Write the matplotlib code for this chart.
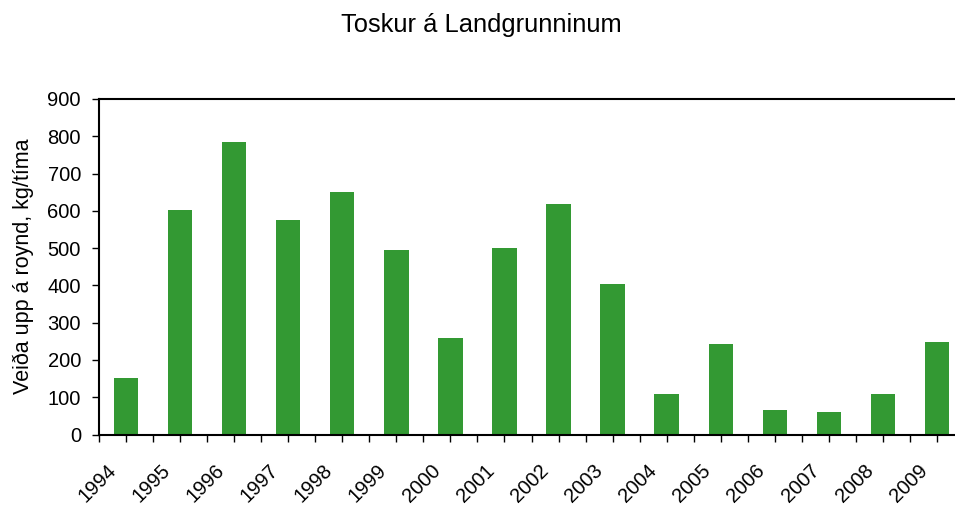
import numpy as np
import matplotlib
matplotlib.use("Agg")
import matplotlib.pyplot as plt
import matplotlib.transforms as mtransforms

plt.rcParams['font.family'] = ['Liberation Sans', 'DejaVu Sans']

years = ['1994', '1995', '1996', '1997', '1998', '1999', '2000', '2001',
         '2002', '2003', '2004', '2005', '2006', '2007', '2008', '2009']
catch = [152, 602, 785, 575, 650, 495, 259, 500,
         618, 404, 109, 243, 66, 60, 109, 248]
yticks = [0, 100, 200, 300, 400, 500, 600, 700, 800, 900]

W, H = 955, 505
fig = plt.figure(figsize=(W/100, H/100), dpi=100)
# axes runs past the right edge of the picture, as in the original
ax = fig.add_axes([99/W, 1-434.5/H, 865/W, 335.5/H])

x = np.arange(len(years))
ax.bar(x, catch, width=0.45, color='#339933')

ax.set_xlim(-0.5, len(years)-0.5)
ax.set_ylim(0, 900)
ax.set_yticks(yticks)
ax.set_xticks(x)
ax.set_xticks(np.arange(len(years)+1)-0.5, minor=True)
ax.set_xticklabels(years, rotation=45, ha='right')

for s in ax.spines.values():
	s.set_linewidth(1.5)
ax.tick_params(axis='both', labelsize=14.5, width=1, length=5, direction='out')
ax.tick_params(axis='x', which='major', pad=14)
ax.tick_params(axis='x', which='minor', width=1, length=5)
ax.tick_params(axis='y', pad=8)

off = mtransforms.ScaledTranslation(-6/100, 0, fig.dpi_scale_trans)
for lab in ax.get_xticklabels():
	lab.set_transform(lab.get_transform()+off)

ax.set_ylabel('Veiða upp á roynd, kg/tíma', fontsize=15.5, labelpad=10)
fig.text(481/W, 1-25/H, 'Toskur á Landgrunninum', fontsize=18.4, ha='center', va='center')

fig.savefig('out.png', dpi=100)
